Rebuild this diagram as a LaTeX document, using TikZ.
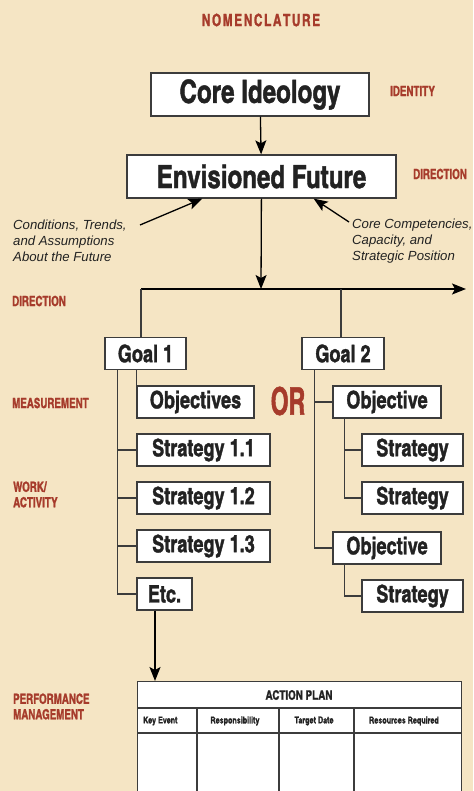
\documentclass[tikz,border=0pt]{standalone}
\usepackage{fontspec}
\usepackage{tikz}
\usetikzlibrary{
	arrows.meta,
	positioning,
	calc
}
\newfontfamily\condfont{texgyreheroscn-bold.otf}[FakeStretch=0.92, FakeBold=1.3]
\newfontfamily\tagfont{texgyreheroscn-bold.otf}[FakeStretch=0.85, FakeBold=1.3]
\newfontfamily\orfont{texgyreheroscn-bold.otf}[FakeStretch=0.74, FakeBold=1.2]
\newfontfamily\notefont{Liberation Sans}
\definecolor{paper}{HTML}{F5E5C4}
\definecolor{tagred}{HTML}{A63B2B}
\definecolor{linegray}{HTML}{3C3C3C}
\definecolor{inkgray}{HTML}{222222}

\begin{document}
\begin{tikzpicture}[
		x=1pt, y=-1pt,
		box/.style={
			rectangle, draw=linegray, line width=1.3pt, fill=white,
			inner sep=0pt, minimum height=32pt,
			align=center, text=inkgray, font=\condfont\fontsize{24}{24}\selectfont
		},
		bigbox/.style={
			box, minimum height=43pt, font=\condfont\fontsize{32}{32}\selectfont
		},
		tag/.style={
			anchor=west, inner sep=0pt, align=left, text=tagred,
			font=\tagfont\fontsize{14}{15.5}\selectfont
		},
		note/.style={
			anchor=west, inner sep=0pt, align=left, text=inkgray,
			font=\notefont\itshape\fontsize{13.2}{16}\selectfont
		},
		head/.style={
			inner sep=0pt, text=inkgray, font=\condfont\fontsize{9.5}{10}\selectfont
		},
		link/.style={line width=1.3pt, draw=linegray},
		arrow/.style={-{Stealth[length=14pt, width=11pt, inset=3pt]}, line width=1.3pt, draw=black},
		]
		
		\fill[paper] (0,0) rectangle (473,791);
		\useasboundingbox (0,0) rectangle (473,791);
		
		\node[text=tagred, font=\tagfont\fontsize{17}{17}\selectfont] (nomen) at (261,20) {N\kern1.6pt O\kern1.6pt M\kern1.6pt E\kern1.6pt N\kern1.6pt C\kern1.6pt L\kern1.6pt A\kern1.6pt T\kern1.6pt U\kern1.6pt R\kern1.6pt E};
		
		%ideology and vision
		\node[bigbox, minimum width=218pt] (core) at (260,94.5) {Core Ideology};
		\node[bigbox, minimum width=269pt] (future) at (261.5,176.5) {Envisioned Future};
		\draw[arrow] (core) -- (future);
		
		\node[tag] (identity) at (390,91) {IDENTITY};
		\node[tag] (vision) at (413,174) {DIRECTION};
		
		\node[note] (trends) at (13,241) {Conditions, Trends,\\and Assumptions\\About the Future};
		\node[note] (compet) at (352,241) {Core Competencies,\\Capacity, and\\Strategic Position};
		\coordinate (trendsfrom) at (140,225);
		\coordinate (competfrom) at (349,222);
		\draw[arrow] (trendsfrom) -- ([xshift=76pt]future.south west);
		\draw[arrow] (competfrom) -- ([xshift=-83pt]future.south east);
		
		%direction line
		\coordinate (split) at (261,289);
		\coordinate (leftend) at (141,289);
		\coordinate (midbranch) at (341,289);
		\coordinate (rightend) at (466,289);
		\draw[arrow] (future) -- (split);
		\draw[arrow] (leftend) -- (rightend);
		\node[tag] (direction) at (12,301) {DIRECTION};
		
		%goals
		\node[box, minimum width=81pt] (goalone) at (145.5,353.5) {Goal 1};
		\node[box, minimum width=82pt] (goaltwo) at (343,353.5) {Goal 2};
		\draw[link] (leftend) -- (leftend |- goalone.north);
		\draw[link] (midbranch) -- (midbranch |- goaltwo.north);
		
		%first goal
		\node[box, minimum width=117pt] (objs) at (195.5,402) {Objectives};
		\node[box, minimum width=133pt] (strat11) at (203.5,450) {Strategy 1.1};
		\node[box, minimum width=133pt] (strat12) at (203.5,498) {Strategy 1.2};
		\node[box, minimum width=133pt] (strat13) at (203.5,546) {Strategy 1.3};
		\node[box, minimum width=55pt] (etc) at (164.5,594) {Etc.};
		\draw[link] (objs.north west) -- (objs.north west |- goalone.south);
		\draw[link] ([xshift=13pt]goalone.south west) coordinate (trunkone) |- (etc.west);
		\foreach \n in {strat11,strat12,strat13}
			\draw[link] (trunkone |- \n.west) -- (\n.west);
		
		\node[text=tagred, font=\orfont\fontsize{38}{38}\selectfont, inner sep=0pt] (or) at (288,401) {OR};
		
		%second goal
		\node[box, minimum width=108pt] (obja) at (387,402) {Objective};
		\node[box, minimum width=101pt] (strata) at (412.5,450) {Strategy};
		\node[box, minimum width=101pt] (stratb) at (412.5,498) {Strategy};
		\node[box, minimum width=108pt] (objb) at (387,548) {Objective};
		\node[box, minimum width=101pt] (stratc) at (412.5,596) {Strategy};
		\draw[link] ([xshift=13pt]goaltwo.south west) coordinate (trunktwo) |- (objb.west);
		\draw[link] (trunktwo |- obja.west) -- (obja.west);
		\draw[link] ([xshift=12pt]obja.south west) coordinate (suba) |- (stratb.west);
		\draw[link] (suba |- strata.west) -- (strata.west);
		\draw[link] ([xshift=12pt]objb.south west) |- (stratc.west);
		
		\node[tag] (measure) at (12,403) {MEASUREMENT};
		\node[tag] (work) at (13,494.5) {WORK/\\ACTIVITY};
		\node[tag] (perform) at (13,706.5) {PERFORMANCE\\MANAGEMENT};
		
		%action plan
		\node[draw=linegray, line width=1.3pt, fill=white, anchor=north west,
			minimum width=324pt, minimum height=140pt, inner sep=0pt] (plan) at (137,681) {};
		\draw[arrow] ([xshift=-9.5pt]etc.south) -- ([xshift=-9.5pt]etc.south |- plan.north);
		\node[head, font=\condfont\fontsize{13}{14}\selectfont] (plantitle) at (299,695) {ACTION PLAN};
		\draw[link] ([yshift=-27pt]plan.north west) -- ([yshift=-27pt]plan.north east);
		\draw[link] ([yshift=-52pt]plan.north west) -- ([yshift=-52pt]plan.north east);
		\foreach \dx in {60,142,217}
			\draw[link, line width=1.6pt] ([xshift=\dx pt, yshift=-27pt]plan.north west) -- ([xshift=\dx pt]plan.south west);
		\node[head, anchor=west] (keyev) at (143,721) {Key Event};
		\node[head] (respons) at (235,721) {Responsibility};
		\node[head] (target) at (314,721) {Target Date};
		\node[head] (resour) at (404,721) {Resources Required};
\end{tikzpicture}
\end{document}
